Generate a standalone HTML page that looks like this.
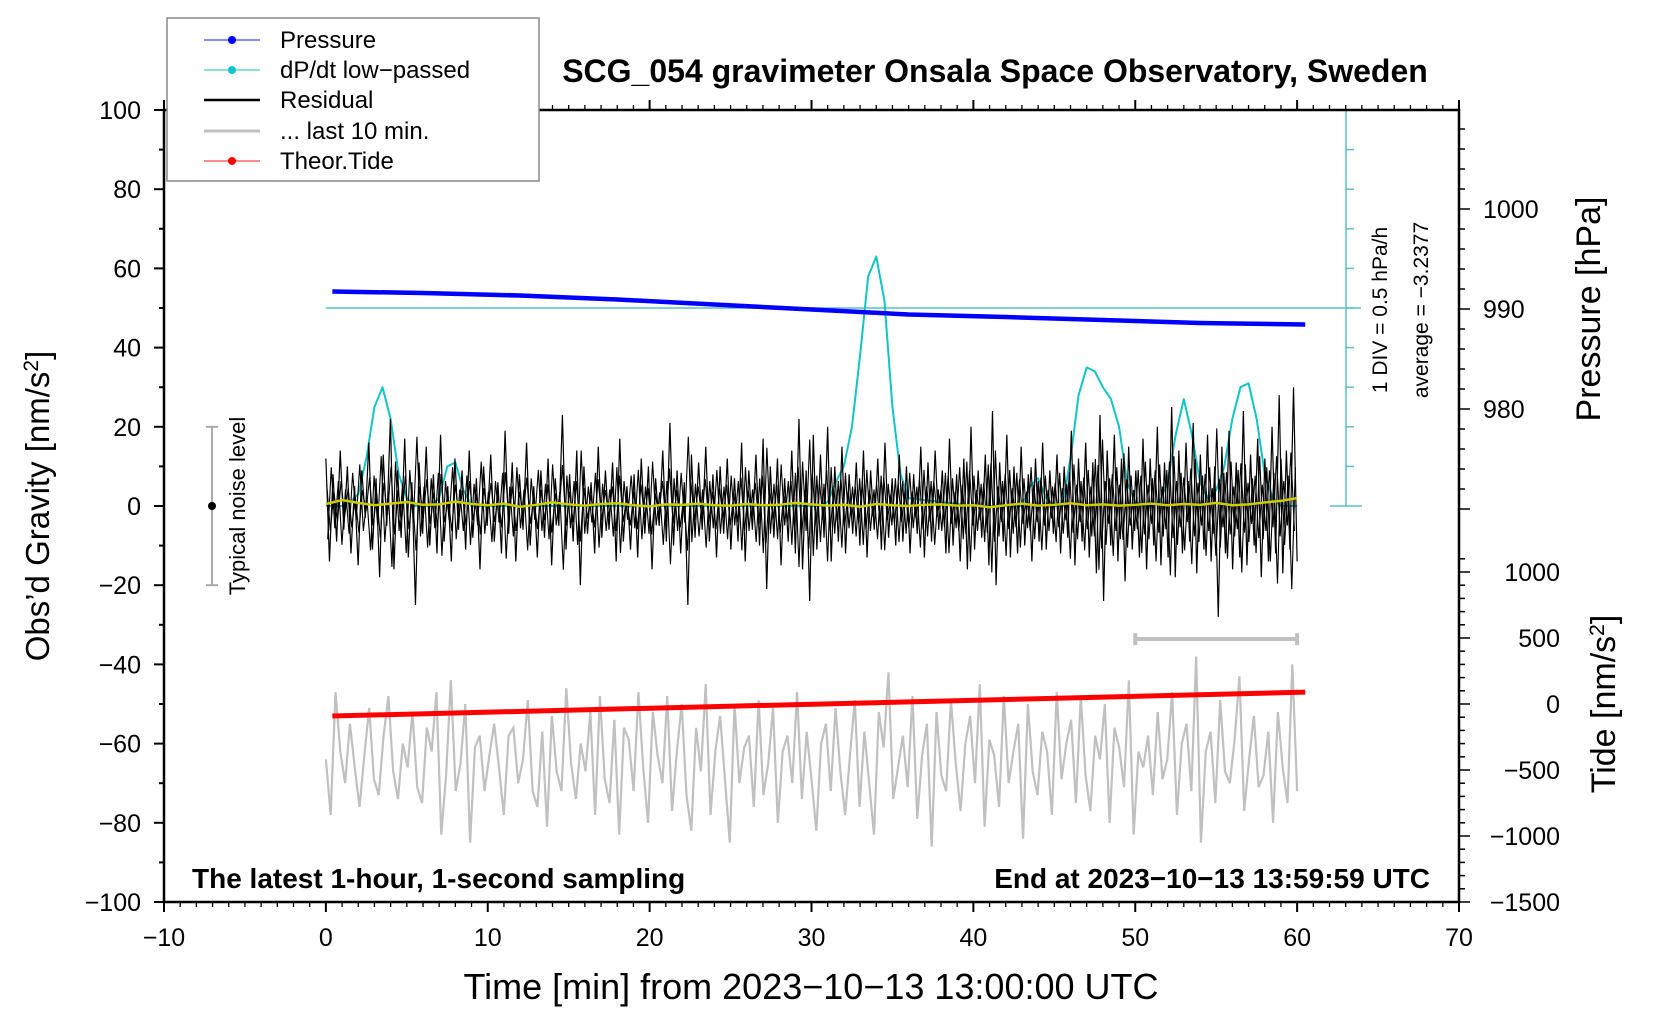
<!DOCTYPE html>
<html><head><meta charset="utf-8"><style>
html,body{margin:0;padding:0;background:#fff;width:1660px;height:1020px;overflow:hidden}
svg{display:block}
text{font-family:"Liberation Sans",sans-serif}
</style></head><body>
<svg id="chart" width="1660" height="1020" viewBox="0 0 1660 1020" xmlns="http://www.w3.org/2000/svg">
<g id="marks"></g>
<g id="axes"></g>
</svg>
<script>
// ---- data ----
const dpTimes=[0,0.5,1,1.5,2,2.5,3,3.5,4,4.5,5,5.5,6,6.5,7,7.5,8,8.5,9,12,15,20,25,30,30.5,31,31.5,32,32.5,33,33.5,34,34.5,35,35.5,36,40,43,43.5,44,44.5,45,45.5,46,46.5,47,47.5,48,48.5,49,49.5,50,50.5,51,51.5,52,52.5,53,53.5,54,54.5,55,55.5,56,56.5,57,57.5,58,58.5,59,60];
const dpValues=[0,0,0,1,3,12,25,30,22,8,2,0,0,0,2,10,11,4,0,0,0,0,0,0,0,1,6,10,20,38,58,63,52,25,8,2,0,0,5,7,2,0,0,12,28,35,34,30,27,20,6,1,0,0,1,6,18,27,18,6,2,4,10,22,30,31,22,8,2,0,0];
const pressureTimes=[0.4,6,12,18,24,30,36,42,48,54,60.5];
const pressureValues=[991.75,991.6,991.35,990.95,990.45,989.95,989.45,989.2,988.9,988.6,988.45];
const tideTimes=[0.4,60.5];
const tideValues=[-91,90];
const residualValues=[12,-14,8,-9,14,-6,10,-12,5,-15,9,-3,16,-11,7,-18,13,-5,22,-16,9,-8,17,-13,6,-25,11,-7,15,-10,8,-12,18,-9,5,-14,12,-6,9,-11,14,-8,7,-16,10,-5,13,-9,6,-12,19,-7,11,-14,8,-6,16,-10,5,-13,9,-8,12,-15,7,-5,23,-11,8,-9,14,-20,10,-7,6,-12,15,-8,9,-6,11,-14,17,-9,5,-11,8,-13,12,-7,10,-16,7,-5,14,-9,21,-10,9,-12,6,-25,13,-8,11,-6,15,-9,8,-13,10,-7,12,-11,7,-9,16,-14,9,-6,13,-10,17,-21,10,-8,12,-15,7,-9,14,-12,22,-16,9,-24,18,-11,13,-8,20,-14,10,-9,15,-12,8,-7,11,-10,14,-13,9,-6,12,-11,16,-8,7,-10,13,-9,10,-12,8,-7,15,-13,11,-9,14,-6,9,-12,17,-10,8,-14,12,-16,20,-11,9,-8,13,-15,24,-20,11,-9,18,-13,10,-12,15,-10,8,-14,12,-9,16,-11,9,-7,13,-12,10,-8,19,-15,12,-9,16,-13,11,-17,23,-24,14,-10,18,-14,12,-19,15,-11,9,-13,17,-16,12,-10,20,-15,11,-13,25,-18,14,-12,16,-9,21,-17,13,-11,18,-14,10,-28,15,-12,19,-16,11,-13,24,-15,13,-10,17,-18,12,-14,20,-12,28,-17,14,-11,30,-14];
const yellowValues=[0.5,1.5,0.8,0.2,0.6,1,0.3,0.4,1.1,0.5,0.2,0.6,-0.2,0.3,0.9,0.4,0.1,0.5,0.7,0.2,-0.1,0.4,0.3,0.6,0.2,0.1,0.5,0.2,0.3,0.8,0.4,0.1,0.3,-0.2,0.5,0.2,0,0.3,0.4,0.1,0.2,-0.3,0.2,0.6,0.1,0.3,0.7,0.2,0.4,0.1,0.3,0.6,0.2,0.5,0.3,0.8,0.2,0.4,0.9,1.3,2];
const grayValues=[-64,-78,-47,-62,-70,-55,-66,-76,-63,-51,-69,-73,-58,-48,-67,-74,-60,-66,-52,-71,-75,-56,-62,-47,-83,-68,-44,-72,-65,-50,-85,-61,-58,-72,-63,-55,-66,-78,-58,-56,-70,-64,-49,-72,-76,-57,-81,-53,-67,-72,-46,-65,-74,-60,-67,-52,-78,-48,-69,-75,-54,-83,-56,-59,-72,-47,-66,-80,-52,-63,-70,-48,-77,-62,-50,-73,-82,-56,-67,-45,-78,-62,-53,-69,-85,-50,-70,-61,-58,-76,-49,-73,-65,-51,-80,-62,-58,-70,-47,-74,-57,-69,-82,-60,-55,-72,-51,-67,-78,-63,-49,-76,-57,-70,-83,-52,-61,-42,-74,-66,-58,-71,-48,-79,-63,-55,-86,-52,-68,-72,-49,-65,-77,-60,-53,-70,-45,-81,-59,-63,-76,-48,-70,-62,-55,-84,-50,-67,-73,-57,-62,-78,-47,-69,-60,-54,-75,-48,-68,-77,-58,-64,-50,-80,-56,-61,-71,-44,-83,-62,-66,-58,-73,-52,-69,-64,-47,-78,-60,-55,-72,-38,-85,-62,-57,-75,-49,-67,-70,-59,-43,-77,-64,-53,-71,-68,-57,-80,-52,-66,-75,-40,-72];
const xTicks=[-10,0,10,20,30,40,50,60,70];
const yTicks=[-100,-80,-60,-40,-20,0,20,40,60,80,100];
const pTicks=[980,990,1000];
const tideTicks=[-1500,-1000,-500,0,500,1000];

// ---- scales ----
const L=164,R=1459,T=110,B=902;
const X=t=>L+(t+10)*(R-L)/80;
const Y=v=>506-v*(B-T)/200;
const YP=p=>309-(p-990)*10;
const YT=v=>704-v*0.132;
const NS='http://www.w3.org/2000/svg';
const marks=document.getElementById('marks'),axes=document.getElementById('axes');
function el(tag,attrs,parent){const e=document.createElementNS(NS,tag);for(const k in attrs)e.setAttribute(k,attrs[k]);(parent||marks).appendChild(e);return e;}
function txt(s,attrs,parent){const e=el('text',attrs,parent);e.textContent=s;return e;}

let f=el('rect',{x:L,y:T,width:R-L,height:B-T,fill:'none',stroke:'#000','stroke-width':2.5},axes);



let avg=el('line',{x1:X(0),x2:1361,y1:YP(990.1),y2:YP(990.1),stroke:'#5cc0c0','stroke-width':1.5});


let sb=el('line',{x1:1346,x2:1346,y1:Y(100),y2:Y(0),stroke:'#5cc0c0','stroke-width':1.5});


for(let v=0;v<=100;v+=10){const w=(v===0||v===100)?16:8;let tk=el('line',{x1:v===0||v===100?1330:1346,x2:1346+w,y1:Y(v),y2:Y(v),stroke:'#5cc0c0','stroke-width':1.5});

}

let dp=el('polyline',{points:dpTimes.map((t,i)=>X(t)+','+Y(dpValues[i])).join(' '),fill:'none',stroke:'#11c4c8','stroke-width':2,'stroke-linejoin':'round'});



let res=el('polyline',{points:residualValues.map((v,i)=>X(i*60/(residualValues.length-1))+','+Y(v)).join(' '),fill:'none',stroke:'#000','stroke-width':1.2});


let res2=el('polyline',{points:residualValues.map((v,i)=>X((i+0.5)*60/(residualValues.length))+','+Y(-v*0.7)).join(' '),fill:'none',stroke:'#000','stroke-width':1.1});


let res3=el('polyline',{points:residualValues.map((v,i)=>X((i+0.25)*60/(residualValues.length))+','+Y(v*0.45)).join(' '),fill:'none',stroke:'#000','stroke-width':1.1});



let yl=el('polyline',{points:yellowValues.map((v,i)=>X(i)+','+Y(v)).join(' '),fill:'none',stroke:'#cccc00','stroke-width':2.5});



let pr=el('polyline',{points:pressureTimes.map((t,i)=>X(t)+','+YP(pressureValues[i])).join(' '),fill:'none',stroke:'#0000ff','stroke-width':4.5});



let gr=el('polyline',{points:grayValues.map((v,i)=>X(i*60/(grayValues.length-1))+','+Y(v)).join(' '),fill:'none',stroke:'#c0c0c0','stroke-width':2.2});


let gb=el('g',{stroke:'#c0c0c0','stroke-width':4});


el('line',{x1:X(50),x2:X(60),y1:Y(-33.6),y2:Y(-33.6)},gb);
el('line',{x1:X(50),x2:X(50),y1:Y(-33.6)-6,y2:Y(-33.6)+6},gb);
el('line',{x1:X(60),x2:X(60),y1:Y(-33.6)-6,y2:Y(-33.6)+6},gb);

let td=el('polyline',{points:tideTimes.map((t,i)=>X(t)+','+YT(tideValues[i])).join(' '),fill:'none',stroke:'#ff0000','stroke-width':5});



let nb=el('g',{stroke:'#aaa','stroke-width':2});


el('line',{x1:212,x2:212,y1:Y(20),y2:Y(-20)},nb);
el('line',{x1:206,x2:218,y1:Y(20),y2:Y(20)},nb);
el('line',{x1:206,x2:218,y1:Y(-20),y2:Y(-20)},nb);
el('circle',{cx:212,cy:Y(0),r:4,fill:'#000',stroke:'none'},nb);
let nt=txt('Typical noise level',{x:0,y:0,'font-size':22,'text-anchor':'middle',transform:'translate(245,506) rotate(-90)'});



for(let t=-10;t<=70;t++){const maj=t%10===0;
 let a=el('line',{x1:X(t),x2:X(t),y1:B,y2:B+(maj?10:5),stroke:'#000','stroke-width':maj?2:1.3},axes);
 
 
 let b=el('line',{x1:X(t),x2:X(t),y1:T,y2:T-(maj?10:5),stroke:'#000','stroke-width':maj?2:1.3},axes);
 
 }
xTicks.forEach(t=>{let s=txt(String(t).replace('-','\u2212'),{x:X(t),y:946,'font-size':25,'text-anchor':'middle'},axes);
 
 });
for(let v=-100;v<=100;v+=10){const maj=v%20===0;
 let a=el('line',{x1:L,x2:L-(maj?10:5),y1:Y(v),y2:Y(v),stroke:'#000','stroke-width':2},axes);
 
 }
yTicks.forEach(v=>{let s=txt(String(v).replace('-','\u2212'),{x:141,y:Y(v)+9,'font-size':25,'text-anchor':'end'},axes);
 
 });
for(let p=1010;p>=970;p-=2){const y=YP(p);if(y<T||y>520)continue;const maj=p%10===0;
 let a=el('line',{x1:R,x2:R+(maj?11:6),y1:y,y2:y,stroke:'#000','stroke-width':1.5},axes);
 
 }
pTicks.forEach(p=>{let s=txt(String(p),{x:1483,y:YP(p)+9,'font-size':25},axes);
 
 });
for(let v=-1500;v<=1100;v+=100){const y=YT(v);if(y<525||y>B)continue;const maj=v%500===0;
 let a=el('line',{x1:R,x2:R+(maj?11:6),y1:y,y2:y,stroke:'#000','stroke-width':1.5},axes);
 
 }
tideTicks.forEach(v=>{let s=txt(String(v).replace('-','\u2212'),{x:1560,y:YT(v)+9,'font-size':25,'text-anchor':'end'},axes);
 
 });
</script>
<svg style="position:absolute;left:0;top:0" width="1660" height="1020">
 <text x="995" y="82" font-size="32" font-weight="bold" text-anchor="middle">SCG_054 gravimeter Onsala Space Observatory, Sweden</text>
 <text x="811" y="999" font-size="36" text-anchor="middle">Time [min] from 2023−10−13 13:00:00 UTC</text>
 <text transform="translate(49,506) rotate(-90)" font-size="33" text-anchor="middle">Obs’d Gravity [nm/s<tspan baseline-shift="super" font-size="21">2</tspan>]</text>
 <text transform="translate(1600,309) rotate(-90)" font-size="34" text-anchor="middle">Pressure [hPa]</text>
 <text transform="translate(1615,704) rotate(-90)" font-size="34" text-anchor="middle">Tide [nm/s<tspan baseline-shift="super" font-size="21">2</tspan>]</text>
 <text transform="translate(1387,310) rotate(-90)" font-size="21" text-anchor="middle">1 DIV = 0.5 hPa/h</text>
 <text transform="translate(1428,310) rotate(-90)" font-size="21" text-anchor="middle">average = −3.2377</text>
 <text x="192" y="888" font-size="28" font-weight="bold">The latest 1-hour, 1-second sampling</text>
 <text x="1430" y="888" font-size="28" font-weight="bold" text-anchor="end">End at 2023−10−13 13:59:59 UTC</text>
 <g>
  <rect x="167" y="18" width="372" height="163" fill="#fff" stroke="#888" stroke-width="1.5"/>
  <g><line x1="204" x2="260" y1="40" y2="40" stroke="#4444ff" stroke-width="1.2"/><circle cx="232" cy="40" r="4" fill="#0000ff"/><text x="280" y="48" font-size="24">Pressure</text></g>
  <g><line x1="204" x2="260" y1="70" y2="70" stroke="#44cccc" stroke-width="1.2"/><circle cx="232" cy="70" r="4" fill="#11c4c8"/><text x="280" y="78" font-size="24">dP/dt low−passed</text></g>
  <g><line x1="204" x2="260" y1="100" y2="100" stroke="#000" stroke-width="2.5"/><text x="280" y="108" font-size="24">Residual</text></g>
  <g><line x1="204" x2="260" y1="131" y2="131" stroke="#c0c0c0" stroke-width="3"/><text x="280" y="139" font-size="24">... last 10 min.</text></g>
  <g><line x1="204" x2="260" y1="161" y2="161" stroke="#ff4444" stroke-width="1.2"/><circle cx="232" cy="161" r="4" fill="#ff0000"/><text x="280" y="169" font-size="24">Theor.Tide</text></g>
 </g>
</svg>
</body></html>
